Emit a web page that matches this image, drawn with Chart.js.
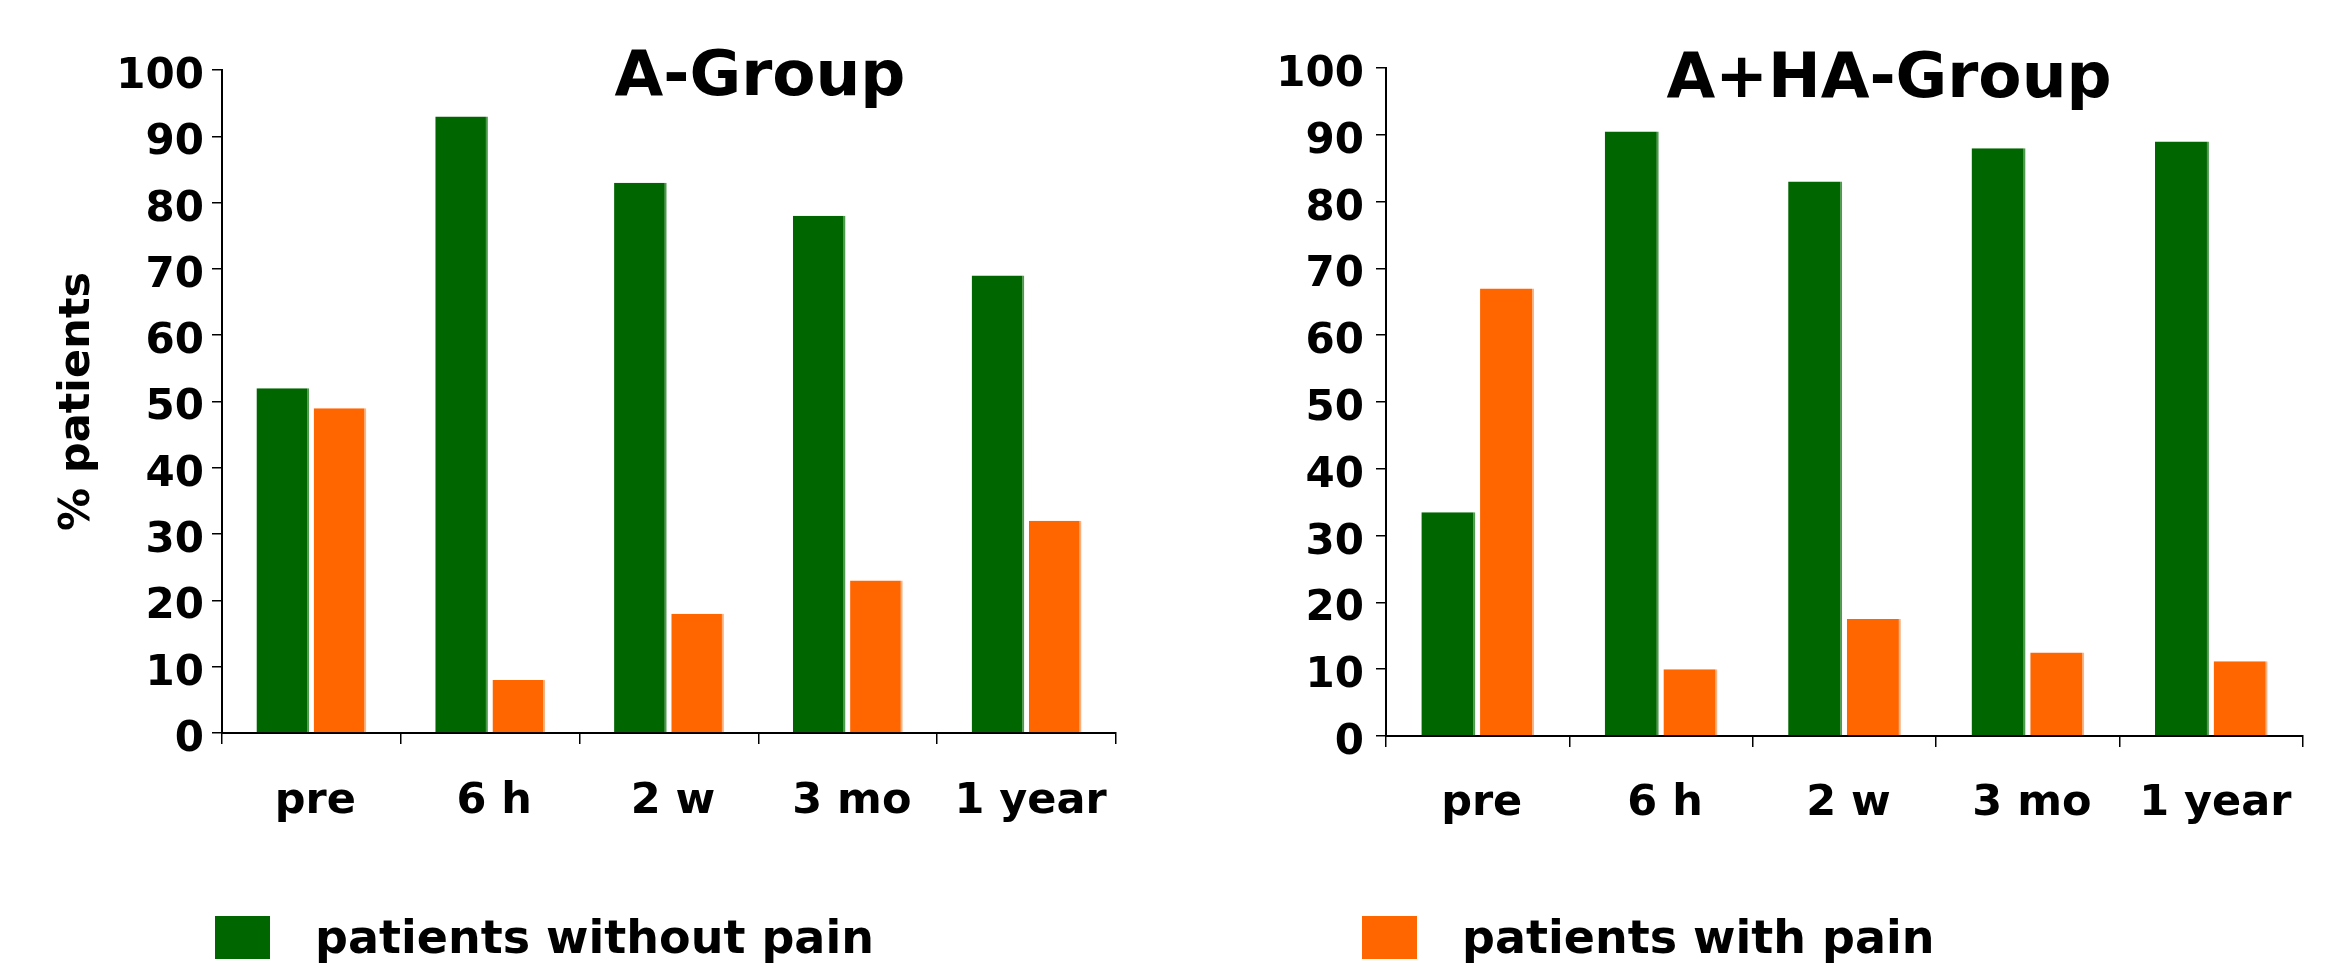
<!DOCTYPE html>
<html lang="en">
	<head>
		<meta charset="utf-8" />
		<script src="https://cdn.jsdelivr.net/npm/chart.js@4.4.1/dist/chart.umd.min.js"></script>
		<style>
			body { margin: 0; background: #fff; }
			#wrap { display: flex; width: 2352px; height: 964px; }
		</style>
	</head>
	<body>
		<div id="wrap">
			<canvas id="groupA" width="1176" height="964"></canvas>
			<canvas id="groupHA" width="1176" height="964"></canvas>
		</div>
	</body>
	<script>
		const categories = ["pre", "6 h", "2 w", "3 mo", "1 year"];
		const aWithoutPain = [52, 93, 83, 78, 69];
		const aWithPain = [49, 8, 18, 23, 32];
		const haWithoutPain = [33.5, 90.5, 83, 88, 89];
		const haWithPain = [67, 10, 17.5, 12.5, 11.2];
		const seriesLabels = ["patients without pain", "patients with pain"];

		const green = "#006600";
		const orange = "#ff6600";
		const family = "'DejaVu Sans'";

		// the slide has its title inside the plot and one legend entry per chart,
		// so both get drawn by hand after chart.js is done
		const slideText = {
			id: "slideText",
			afterDraw(chart, args, opts) {
				const ctx = chart.ctx;
				const ds = chart.data.datasets[opts.legendIndex];
				ctx.save();
				ctx.fillStyle = "#000";
				ctx.textBaseline = "alphabetic";
				ctx.textAlign = "center";
				ctx.font = "bold 63px " + family;
				ctx.fillText(opts.title, opts.titleX, opts.titleY);

				ctx.fillStyle = ds.backgroundColor;
				ctx.fillRect(opts.boxX, 916, 55, 43);
				ctx.fillStyle = "#000";
				ctx.textAlign = "left";
				ctx.font = "bold 46px " + family;
				ctx.fillText(ds.label, opts.boxX + 100, 953);
				ctx.restore();
			}
		};

		function makeChart(id, noPain, pain, cfg) {
			const ctx = document.getElementById(id).getContext("2d");
			return new Chart(ctx, {
				type: "bar",
				data: {
					labels: categories,
					datasets: [
						{
							label: seriesLabels[0],
							data: noPain,
							backgroundColor: green,
							borderColor: "#4d9a4d",
							borderWidth: { top: 0, right: 2, bottom: 0, left: 0 }
						},
						{
							label: seriesLabels[1],
							data: pain,
							backgroundColor: orange,
							borderColor: "#ffb27f",
							borderWidth: { top: 0, right: 2, bottom: 0, left: 0 }
						}
					]
				},
				options: {
					responsive: false,
					animation: false,
					layout: {
						padding: { left: cfg.padLeft, right: cfg.padRight, top: cfg.padTop, bottom: 0 }
					},
					datasets: {
						bar: { categoryPercentage: 0.64, barPercentage: 0.92 }
					},
					scales: {
						x: {
							grid: { drawOnChartArea: false, tickLength: 11, color: "#000", lineWidth: 1.5 },
							border: { color: "#000", width: 2 },
							ticks: {
								color: "#000",
								padding: cfg.xPad,
								labelOffset: 4,
								maxRotation: 0,
								autoSkip: false,
								font: { family: "DejaVu Sans", size: 43, weight: "bold" }
							},
							afterFit(scale) {
								scale.height = cfg.xHeight;
							}
						},
						y: {
							min: 0,
							max: 100,
							grid: { drawOnChartArea: false, tickLength: 10, color: "#000", lineWidth: 1.5 },
							border: { color: "#000", width: 2 },
							ticks: {
								stepSize: 10,
								color: "#000",
								padding: cfg.yPad,
								labelOffset: 7,
								font: { family: "DejaVu Sans", size: 42, weight: "bold" }
							},
							title: {
								display: cfg.yTitle,
								text: "% patients",
								color: "#000",
								padding: 0,
								font: { family: "DejaVu Sans", size: 43, weight: "bold", lineHeight: 1.2 }
							},
							afterFit(scale) {
								scale.width = cfg.yWidth;
							}
						}
					},
					plugins: {
						legend: { display: false },
						tooltip: { enabled: false },
						slideText: {
							title: cfg.title,
							titleX: cfg.titleX,
							titleY: cfg.titleY,
							legendIndex: cfg.legendIndex,
							boxX: cfg.boxX
						}
					}
				},
				plugins: [slideText]
			});
		}

		makeChart("groupA", aWithoutPain, aWithPain, {
			title: "A-Group",
			titleX: 760,
			titleY: 95,
			legendIndex: 0,
			boxX: 215,
			yTitle: true,
			padLeft: 52,
			padRight: 60,
			padTop: 70,
			yWidth: 170,
			yPad: 8,
			xHeight: 231,
			xPad: 32
		});

		makeChart("groupHA", haWithoutPain, haWithPain, {
			title: "A+HA-Group",
			titleX: 713,
			titleY: 97,
			legendIndex: 1,
			boxX: 186,
			yTitle: false,
			padLeft: 0,
			padRight: 49,
			padTop: 68,
			yWidth: 210,
			yPad: 12,
			xHeight: 228,
			xPad: 31
		});
	</script>
</html>
